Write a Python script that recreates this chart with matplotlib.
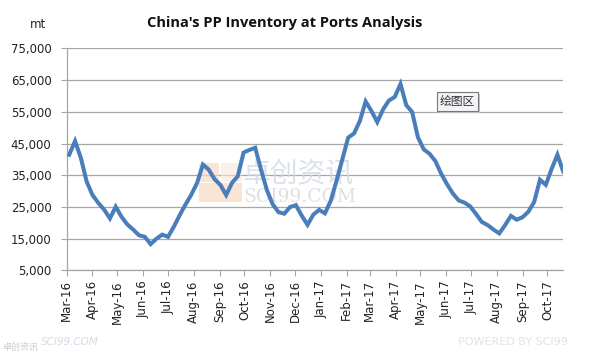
import matplotlib
matplotlib.use("Agg")
import matplotlib.pyplot as plt
import matplotlib.dates as mdates
import pandas as pd
from matplotlib.patches import Rectangle

# weekly port inventory, mt
dates = pd.date_range("2016-03-04", periods=86, freq="7D")
inventory = [41500, 45800, 40500, 33000, 28800, 26300, 24200, 21400, 25100, 21900,
             19500, 17900, 16100, 15600, 13300, 15000, 16300, 15600, 18800, 22400,
             25800, 28900, 32600, 38400, 36800, 33800, 32000, 28800, 32600, 34700,
             42200, 43000, 43700, 36800, 30400, 25900, 23400, 22900, 25000, 25600,
             22300, 19400, 22600, 24100, 23000, 27000, 33300, 40100, 46900, 48200,
             52100, 58300, 55300, 51800, 55800, 58600, 59700, 63800, 57100, 55000,
             47000, 43200, 41800, 39500, 35500, 32200, 29300, 27100, 26400, 25200,
             22800, 20300, 19300, 17900, 16700, 19300, 22200, 21000, 21800, 23500,
             26600, 33600, 32000, 37000, 41500, 36200]

yticks = list(range(5000, 75001, 10000))
month_ticks = pd.date_range("2016-03-01", "2017-10-01", freq="MS")

fig = plt.figure(figsize=(5.96, 3.54), dpi=100)
ax = fig.add_axes([0.112, 0.236, 0.833, 0.627])

grid_c = "#a6a6a6"
for y in yticks:
    ax.axhline(y, color=grid_c, lw=0.9, zorder=1)

# watermark in the middle of the plot
wm = "#f8d9c2"
ax.add_patch(Rectangle((0.266, 0.308), 0.087, 0.087, transform=ax.transAxes,
                       color=wm, alpha=0.7, lw=0, zorder=1.5))
ax.add_patch(Rectangle((0.266, 0.40), 0.04, 0.082, transform=ax.transAxes,
                       color=wm, alpha=0.7, lw=0, zorder=1.5))
ax.add_patch(Rectangle((0.311, 0.40), 0.042, 0.082, transform=ax.transAxes,
                       color="#fbe9dc", alpha=0.6, lw=0, zorder=1.5))
ax.text(0.355, 0.435, "卓创资讯", transform=ax.transAxes, fontsize=20,
        family="Noto Sans CJK SC", color="#d3d9e4", alpha=0.8, va="center", zorder=1.5)
ax.text(0.355, 0.33, "SCI99.COM", transform=ax.transAxes, fontsize=13.5,
        family="DejaVu Serif", color="#dcdcdc", alpha=0.9, va="center", zorder=1.5)

ax.plot(dates, inventory, color="#4a7ebb", lw=2.9, solid_joinstyle="miter", zorder=3)

ax.set_ylim(5000, 75000)
ax.set_yticks(yticks)
ax.set_yticklabels([f"{v:,}" for v in yticks])
ax.set_xlim(pd.Timestamp("2016-03-01"), pd.Timestamp("2017-10-20"))
ax.set_xticks(month_ticks)
ax.xaxis.set_major_formatter(mdates.DateFormatter("%b-%y"))

for side in ["top", "right"]:
    ax.spines[side].set_visible(False)
for side in ["left", "bottom"]:
    ax.spines[side].set_color(grid_c)
    ax.spines[side].set_linewidth(0.9)

ax.tick_params(axis="y", direction="out", length=4, color=grid_c, labelsize=8.5,
               pad=7, labelcolor="#222222")
ax.tick_params(axis="x", direction="out", length=4, color=grid_c, labelsize=8.5,
               pad=3, labelcolor="#222222", labelrotation=90)

fig.text(0.478, 0.935, "China's PP Inventory at Ports Analysis", ha="center", va="center",
         fontsize=10.5, fontweight="bold", family="Open Sans", color="#111111")
fig.text(0.064, 0.93, "mt", ha="center", va="center", fontsize=8.5, color="#222222")

# "plot area" hover label with a small shadow
tip = fig.text(0.767, 0.713, "绘图区", ha="center", va="center", fontsize=8.5,
               family="Noto Sans CJK SC", color="#333333", zorder=3,
               bbox=dict(boxstyle="square,pad=0.25", fc="#f4f4f8", ec="#777777", lw=0.8))
fig.canvas.draw()
bb = tip.get_bbox_patch().get_window_extent().transformed(fig.transFigure.inverted())
fig.patches.append(Rectangle((bb.x0 + 2 / 596, bb.y0 - 2 / 354), bb.width, bb.height,
                             transform=fig.transFigure, fc="#c4c4c4", ec="none", zorder=2))

# footer watermarks
fig.text(0.068, 0.035, "SCI99.COM", ha="left", va="center", fontsize=7.5,
         color="#d4d9e4", fontstyle="italic")
fig.text(0.005, 0.02, "卓创资讯", ha="left", va="center", fontsize=6.5,
         family="Noto Sans CJK SC", color="#cccccc")
fig.text(0.86, 0.035, "POWERED BY SCI99", ha="center", va="center", fontsize=8,
         color="#e2e2e8")

fig.savefig("out.png", dpi=100)
